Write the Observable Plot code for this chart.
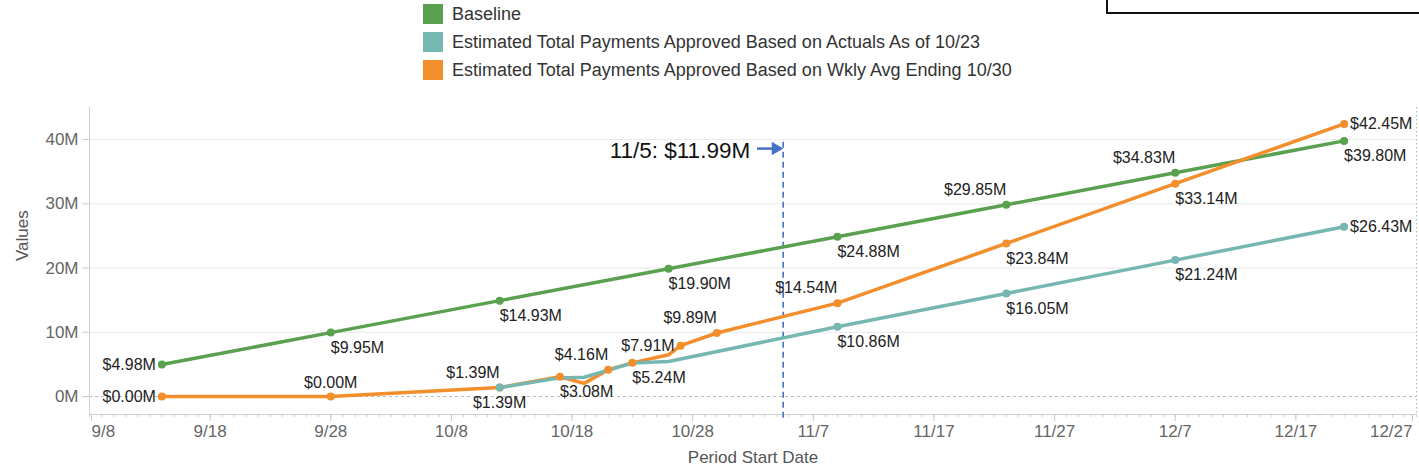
<!DOCTYPE html>
<html><head><meta charset="utf-8">
<script src="https://cdn.jsdelivr.net/npm/d3@7"></script>
<script src="https://cdn.jsdelivr.net/npm/@observablehq/plot@0.6"></script>
<style>
html,body{margin:0;padding:0;background:#fff;}
body{width:1419px;height:473px;overflow:hidden;font-family:"Liberation Sans",Arial,sans-serif;}
#legend{position:relative;height:92px;}
.item{position:absolute;left:423px;display:flex;align-items:center;height:28px;font-size:18px;color:#333;white-space:nowrap;}
.sw{width:20px;height:20px;margin-right:9px;}
#box{position:absolute;left:1106px;top:-10px;width:340px;height:20px;border:2px solid #111;}
#chart svg{display:block;}
</style></head><body>
<div id="legend"><div id="box"></div></div>
<div id="chart"></div>
<script>
// ---- data (values in millions of dollars) ----
const seriesNames = [
  "Baseline",
  "Estimated Total Payments Approved Based on Actuals As of 10/23",
  "Estimated Total Payments Approved Based on Wkly Avg Ending 10/30"
];
const seriesColors = ["#59a14f", "#76b7b2", "#f28e2b"];

const baselineDates = ["2020-09-14","2020-09-28","2020-10-12","2020-10-26","2020-11-09","2020-11-23","2020-12-07","2020-12-21"];
const baselineValues = [4.98, 9.95, 14.93, 19.90, 24.88, 29.85, 34.83, 39.80];

const actualsDates = ["2020-10-12","2020-10-17","2020-10-19","2020-10-21","2020-10-23","2020-10-26","2020-11-09","2020-11-23","2020-12-07","2020-12-21"];
const actualsValues = [1.39, 2.90, 3.00, 4.10, 5.20, 5.45, 10.86, 16.05, 21.24, 26.43];

const weeklyDates = ["2020-09-14","2020-09-28","2020-10-12","2020-10-17","2020-10-19","2020-10-21","2020-10-23","2020-10-26","2020-10-27","2020-10-30","2020-11-09","2020-11-23","2020-12-07","2020-12-21"];
const weeklyValues = [0.00, 0.00, 1.39, 3.08, 2.05, 4.16, 5.24, 6.50, 7.91, 9.89, 14.54, 23.84, 33.14, 42.45];

const xTickDates = ["2020-09-08","2020-09-18","2020-09-28","2020-10-08","2020-10-18","2020-10-28","2020-11-07","2020-11-17","2020-11-27","2020-12-07","2020-12-17","2020-12-27"];
const yTickValues = [0, 10, 20, 30, 40];

const annotationDate = "2020-11-04T12:00Z";
const annotationValue = 11.99;
const annotationText = "11/5: $11.99M";

const xTitle = "Period Start Date";
const yTitle = "Values";

// ---- label placement (style, kept out of data) ----
const placeBaseline = ["left","belowStart","belowStart","belowStart","belowStart","aboveEnd","aboveEnd","belowStart"];
const placeActuals  = ["below",null,null,null,null,null,"belowStart","belowStart","belowStart","right"];
const placeWeekly   = ["left","above","aboveEnd","belowStart",null,"aboveEnd","belowStart",null,"left","aboveEnd","aboveEnd","belowStart","belowStart","right"];

const M = 1e6;
const parse = s => new Date(s.length === 10 ? s + "T00:00Z" : s);
const fmt = d3.format("$.2f");

function build(dates, values, places, si) {
  return dates.map((d, i) => ({date: parse(d), value: values[i] * M, text: fmt(values[i]) + "M", place: places[i], series: si}));
}
const baseline = build(baselineDates, baselineValues, placeBaseline, 0);
const actuals = build(actualsDates, actualsValues, placeActuals, 1);
const weekly = build(weeklyDates, weeklyValues, placeWeekly, 2);
const allPts = [...baseline, ...weekly, ...actuals];

// legend
const legend = document.getElementById("legend");
seriesNames.forEach((n, i) => {
  const el = document.createElement("div");
  el.className = "item";
  el.style.top = (i * 28) + "px";
  el.innerHTML = `<div class="sw" style="background:${seriesColors[i]}"></div><span></span>`;
  el.querySelector("span").textContent = n;
  legend.appendChild(el);
});

const xTicks = xTickDates.map(parse);
const x0 = xTicks[0], x1 = xTicks[xTicks.length - 1];
const yMin = -2.8 * M, yMax = 45 * M;
const minorTicks = d3.utcDay.range(x0, d3.utcDay.offset(x1, 1));
const tickFmt = d3.utcFormat("%-m/%-d");
const FONT = '"Liberation Sans", Arial, sans-serif';

const placements = {
  left:       {textAnchor: "end",    dx: -6, dy: 0},
  right:      {textAnchor: "start",  dx: 6,  dy: 0},
  above:      {textAnchor: "middle", dx: 0,  dy: -14},
  below:      {textAnchor: "middle", dx: 0,  dy: 15},
  aboveEnd:   {textAnchor: "end",    dx: 0,  dy: -15},
  belowStart: {textAnchor: "start",  dx: 0,  dy: 15}
};
const labelMarks = Object.entries(placements).map(([p, o]) =>
  Plot.text(allPts.filter(d => d.place === p), {x: "date", y: "value", text: "text", fontSize: 16, fill: "#222", ...o})
);

const aDate = parse(annotationDate);
const aY = 38.6 * M;
const annot = [{date: aDate}];

const chart = Plot.plot({
  width: 1419, height: 381,
  marginLeft: 89, marginRight: 3, marginTop: 15, marginBottom: 59,
  style: {fontFamily: FONT, background: "#fff", overflow: "visible"},
  x: {type: "utc", domain: [x0, x1]},
  y: {domain: [yMin, yMax]},
  marks: [
    Plot.gridY(yTickValues.filter(v => v > 0).map(v => v * M), {stroke: "#e9e9e9", strokeOpacity: 1}),
    Plot.ruleY([0], {stroke: "#b8b8b8", strokeDasharray: "3,3"}),
    Plot.ruleX([x0], {stroke: "#cfcfcf"}),
    Plot.ruleY([yMin], {stroke: "#cfcfcf"}),
    Plot.ruleX([x1], {stroke: "#86d486", strokeDasharray: "1.5,2.5"}),
    Plot.axisY(yTickValues.map(v => v * M), {tickFormat: d => d / M + "M", tickSize: 7, tickPadding: 4, fontSize: 17, fill: "#666", stroke: "#c8c8c8", label: null}),
    Plot.axisX(minorTicks, {tickSize: 3, fill: "none", stroke: "#cfcfcf", label: null}),
    Plot.axisX(xTicks.slice(1, -1), {tickSize: 7, tickPadding: 3, tickFormat: tickFmt, fontSize: 17, fill: "#666", stroke: "#c8c8c8", label: null}),
    Plot.axisX(xTicks.slice(0, 1), {tickSize: 7, tickPadding: 3, tickFormat: tickFmt, fontSize: 17, fill: "#666", stroke: "#c8c8c8", label: null, textAnchor: "start", dx: 2}),
    Plot.axisX(xTicks.slice(-1), {tickSize: 7, tickPadding: 3, tickFormat: tickFmt, fontSize: 17, fill: "#666", stroke: "#c8c8c8", label: null, textAnchor: "end", dx: -4}),
    Plot.text([xTitle], {frameAnchor: "bottom", dy: 48, fontSize: 17, fill: "#555"}),
    Plot.text([yTitle], {frameAnchor: "left", dx: -67, rotate: -90, fontSize: 17, fill: "#555"}),
    // annotation
    Plot.ruleX(annot, {x: "date", y1: 39.6 * M, y2: -3.9 * M, stroke: "#4472c4", strokeWidth: 1.6, strokeDasharray: "6,4"}),
    Plot.link(annot, {x1: d => d3.utcHour.offset(d.date, -52), x2: d => d3.utcHour.offset(d.date, -20), y1: aY, y2: aY, stroke: "#4472c4", strokeWidth: 2.5}),
    Plot.dot(annot, {x: "date", y: aY, symbol: "triangle", rotate: 90, r: 5, fill: "#4472c4", dx: -7.5}),
    Plot.text(annot, {x: "date", y: aY, text: () => annotationText, textAnchor: "end", dx: -33, dy: 2, fontSize: 22.5, fill: "#111"}),
    // series
    Plot.line(baseline, {x: "date", y: "value", stroke: seriesColors[0], strokeWidth: 3.5}),
    Plot.line(weekly, {x: "date", y: "value", stroke: seriesColors[2], strokeWidth: 3.5}),
    Plot.line(actuals, {x: "date", y: "value", stroke: seriesColors[1], strokeWidth: 3.5}),
    Plot.dot(baseline.filter(d => d.place), {x: "date", y: "value", r: 4, fill: seriesColors[0]}),
    Plot.dot(weekly.filter(d => d.place), {x: "date", y: "value", r: 4, fill: seriesColors[2]}),
    Plot.dot(actuals.filter(d => d.place), {x: "date", y: "value", r: 4, fill: seriesColors[1]}),
    ...labelMarks
  ]
});
document.getElementById("chart").appendChild(chart);
</script></body></html>
